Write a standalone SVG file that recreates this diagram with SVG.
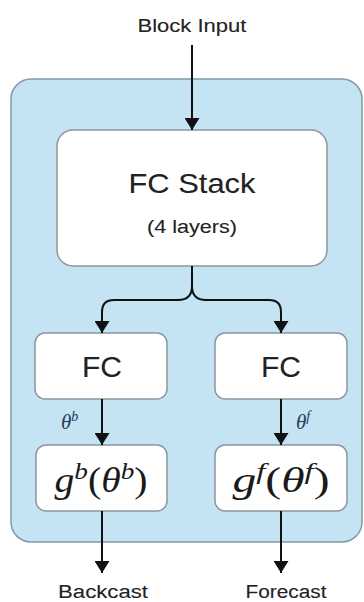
<svg xmlns="http://www.w3.org/2000/svg" width="364" height="602" viewBox="0 0 364 602">
  <defs>
    <marker id="arrow" viewBox="0 0 12 15" refX="12" refY="7.5" markerWidth="12" markerHeight="15" markerUnits="userSpaceOnUse" orient="auto">
      <path d="M0,0 L12,7.5 L0,15 Z" fill="#111"/>
    </marker>
    <style>
      .block { fill: #c4e3f3; stroke: #8299a6; stroke-width: 1.5; }
      .box { fill: #ffffff; stroke: #8a979f; stroke-width: 1.5; }
      .label { font-family: "Liberation Sans", Arial, sans-serif; fill: #222; text-anchor: middle; stroke: #222; stroke-width: 0.1; }
      .math { font-family: "Liberation Serif", "Times New Roman", serif; fill: #1a1a1a; text-anchor: middle; }
      .param { font-family: "Liberation Serif", "Times New Roman", serif; font-style: italic; fill: #1f3d57; }
      .edge { fill: none; stroke: #111; stroke-width: 2; }
    </style>
  </defs>

  <rect width="364" height="602" fill="#ffffff"/>

  <!-- block container -->
  <g id="block">
    <rect class="block" x="11" y="79" width="351" height="463" rx="20"/>
  </g>

  <g id="block-input">
    <text class="label" x="192" y="32" font-size="18" textLength="109" lengthAdjust="spacingAndGlyphs">Block Input</text>
  </g>

  <g id="fc-stack">
    <rect class="box" x="57" y="130" width="270" height="136" rx="16"/>
    <text class="label" x="192" y="193" font-size="28" textLength="127" lengthAdjust="spacingAndGlyphs">FC Stack</text>
    <text class="label" x="192" y="233" font-size="19" textLength="90" lengthAdjust="spacingAndGlyphs">(4 layers)</text>
  </g>

  <g id="fc-backcast">
    <rect class="box" x="35" y="333" width="132" height="66" rx="10"/>
    <text class="label" x="102" y="377" font-size="30">FC</text>
  </g>

  <g id="fc-forecast">
    <rect class="box" x="215" y="333" width="132" height="66" rx="10"/>
    <text class="label" x="281" y="377" font-size="30">FC</text>
  </g>

  <g id="g-backcast">
    <rect class="box" x="36" y="445" width="131" height="66" rx="10"/>
    <text class="math" x="101" y="492" font-size="35" textLength="93" lengthAdjust="spacingAndGlyphs"><tspan font-style="italic">g</tspan><tspan font-style="italic" font-size="24" dy="-13">b</tspan><tspan dy="13">(</tspan><tspan font-style="italic">θ</tspan><tspan font-style="italic" font-size="24" dy="-13">b</tspan><tspan dy="13">)</tspan></text>
  </g>

  <g id="g-forecast">
    <rect class="box" x="215" y="445" width="132" height="66" rx="10"/>
    <text class="math" x="281" y="492" font-size="35" textLength="97" lengthAdjust="spacingAndGlyphs"><tspan font-style="italic">g</tspan><tspan font-style="italic" font-size="24" dy="-13">f</tspan><tspan dy="13">(</tspan><tspan font-style="italic">θ</tspan><tspan font-style="italic" font-size="24" dy="-13">f</tspan><tspan dy="13">)</tspan></text>
  </g>

  <g id="outputs">
    <text class="label" x="103" y="598" font-size="18" textLength="90" lengthAdjust="spacingAndGlyphs">Backcast</text>
    <text class="label" x="286" y="598" font-size="18" textLength="81" lengthAdjust="spacingAndGlyphs">Forecast</text>
  </g>

  <g id="connectors">
    <path class="edge" d="M192,45 L192,130" marker-end="url(#arrow)"/>
    <path class="edge" d="M192,266 L192,286 Q192,300 178,300 L114,300 Q102,300 102,312 L102,333" marker-end="url(#arrow)"/>
    <path class="edge" d="M192,286 Q192,300 206,300 L269,300 Q281,300 281,312 L281,333" marker-end="url(#arrow)"/>
    <path class="edge" d="M102,399 L102,445" marker-end="url(#arrow)"/>
    <path class="edge" d="M281,399 L281,445" marker-end="url(#arrow)"/>
    <path class="edge" d="M102,511 L102,573" marker-end="url(#arrow)"/>
    <path class="edge" d="M281,511 L281,573" marker-end="url(#arrow)"/>
    <text class="param" x="61" y="429" font-size="21">θ<tspan font-size="14" dy="-8">b</tspan></text>
    <text class="param" x="296" y="429" font-size="21">θ<tspan font-size="14" dy="-8">f</tspan></text>
  </g>
</svg>
